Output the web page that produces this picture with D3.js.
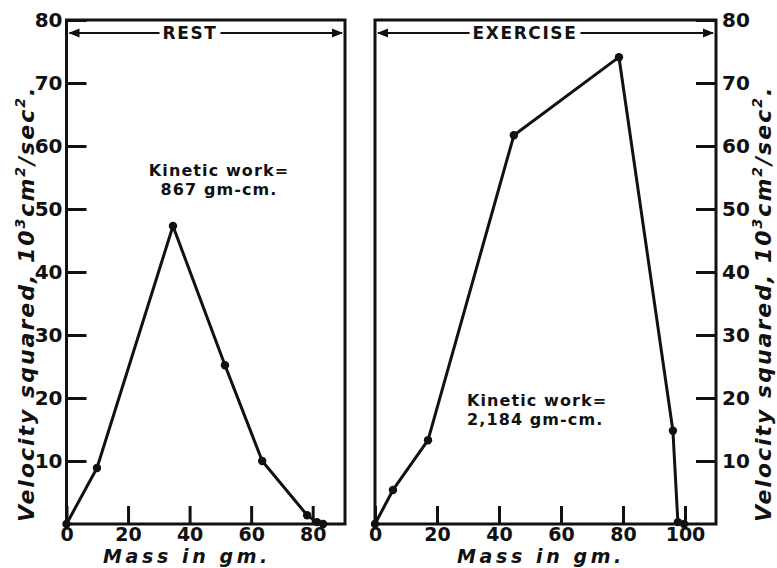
<!DOCTYPE html>
<html>
<head>
<meta charset="utf-8">
<script src="https://cdn.jsdelivr.net/npm/d3@7"></script>
<style>
  html, body { margin: 0; padding: 0; background: #fff; }
  svg { display: block; }
  text { fill: #111; }
</style>
</head>
<body>
<svg id="chart" width="777" height="568"></svg>
<script>
// Mass (gm) vs velocity squared (10^3 cm^2/sec^2)
const restMass     = [0, 9.9, 34.6, 51.5, 63.6, 78.2, 81.4, 83.4];
const restVel      = [0, 8.9, 47.3, 25.2, 10.0, 1.4, 0.3, 0];
const exerciseMass = [0, 5.8, 17.1, 44.8, 78.7, 96.1, 97.7, 99.7];
const exerciseVel  = [0, 5.4, 13.3, 61.7, 74.1, 14.8, 0.3, 0];

const restXTicks     = [0, 20, 40, 60, 80];
const exerciseXTicks = [0, 20, 40, 60, 80, 100];
const restYTicks     = [10, 20, 30, 40, 50, 60, 70, 80];
const exerciseYTicks = [10, 20, 30, 40, 50, 60, 70, 80];

const panelTitles = ["REST", "EXERCISE"];
const workNotes   = [["Kinetic work=", "867 gm-cm."], ["Kinetic work=", "2,184 gm-cm."]];
const xTitle = "Mass in gm.";

const ink = "#111";
const svg = d3.select("#chart");
const labelFont = "'DejaVu Sans', sans-serif";

const panels = [
  { mass: restMass, vel: restVel, xTicks: restXTicks, yTicks: restYTicks,
    x: d3.scaleLinear([0, 90.5], [66.5, 345]), ySide: "left",
    title: panelTitles[0], titleX: 190, note: workNotes[0], noteX: 219, noteY: 176, noteAnchor: "middle",
    xTitleX: 187 },
  { mass: exerciseMass, vel: exerciseVel, xTicks: exerciseXTicks, yTicks: exerciseYTicks,
    x: d3.scaleLinear([0, 110], [375, 716]), ySide: "right",
    title: panelTitles[1], titleX: 525, note: workNotes[1], noteX: 467, noteY: 406, noteAnchor: "start",
    xTitleX: 541 }
];
const y = d3.scaleLinear([0, 80], [524, 20]);

panels.forEach(p => {
  const [x0, x1] = p.x.range();
  const g = svg.append("g");

  // x axis: inward ticks along the bottom
  const xAxis = d3.axisBottom(p.x).tickValues(p.xTicks).tickSizeInner(-18).tickSizeOuter(0).tickPadding(3);
  const gx = g.append("g").attr("transform", `translate(0,${y(0)})`).call(xAxis);
  gx.select(".domain").remove();
  gx.selectAll(".tick line").attr("stroke", ink).attr("stroke-width", 3);
  gx.selectAll(".tick text").attr("font-family", labelFont).attr("font-weight", "bold")
    .attr("font-size", 19).attr("fill", ink);

  // y axis: inward ticks on the outer side
  const yAxis = (p.ySide === "left" ? d3.axisLeft(y) : d3.axisRight(y))
    .tickValues(p.yTicks).tickSizeInner(-20).tickSizeOuter(0).tickPadding(p.ySide === "left" ? 4 : 6);
  const gy = g.append("g").attr("transform", `translate(${p.ySide === "left" ? x0 : x1},0)`).call(yAxis);
  gy.select(".domain").remove();
  gy.selectAll(".tick line").attr("stroke", ink).attr("stroke-width", 3);
  gy.selectAll(".tick text").attr("font-family", labelFont).attr("font-weight", "bold")
    .attr("font-size", 20).attr("fill", ink);

  // frame
  g.append("rect").attr("x", x0).attr("y", y(80)).attr("width", x1 - x0).attr("height", y(0) - y(80))
    .attr("fill", "none").attr("stroke", ink).attr("stroke-width", 3);

  // double-headed arrow with panel title
  const ay = 33, ah = 11, aw = 4.5;
  g.append("line").attr("x1", x0 + 3).attr("x2", x1 - 3).attr("y1", ay).attr("y2", ay)
    .attr("stroke", ink).attr("stroke-width", 2.2);
  g.append("path").attr("fill", ink)
    .attr("d", `M${x0 + 2},${ay} L${x0 + 2 + ah},${ay - aw} L${x0 + 2 + ah},${ay + aw} Z`);
  g.append("path").attr("fill", ink)
    .attr("d", `M${x1 - 2},${ay} L${x1 - 2 - ah},${ay - aw} L${x1 - 2 - ah},${ay + aw} Z`);
  const tt = g.append("text").attr("x", p.titleX).attr("y", ay + 6).attr("text-anchor", "middle")
    .attr("font-family", labelFont).attr("font-weight", "bold").attr("font-size", 17)
    .attr("letter-spacing", 1.6).text(p.title);
  const bb = tt.node().getBBox();
  g.insert("rect", () => tt.node()).attr("x", bb.x - 3).attr("y", ay - 4)
    .attr("width", bb.width + 6).attr("height", 8).attr("fill", "#fff");

  // curve
  const pts = p.mass.map((m, i) => [m, p.vel[i]]);
  g.append("path").datum(pts)
    .attr("d", d3.line().x(d => p.x(d[0])).y(d => y(d[1])))
    .attr("fill", "none").attr("stroke", ink).attr("stroke-width", 3).attr("stroke-linejoin", "round");
  g.selectAll("circle.pt").data(pts).join("circle").attr("class", "pt")
    .attr("cx", d => p.x(d[0])).attr("cy", d => y(d[1])).attr("r", 4.2).attr("fill", ink);

  // kinetic work note
  const nt = g.append("text").attr("font-family", labelFont).attr("font-weight", "bold")
    .attr("font-size", 16).attr("letter-spacing", 1.1).attr("text-anchor", p.noteAnchor);
  p.note.forEach((s, i) => nt.append("tspan").attr("x", p.noteX).attr("y", p.noteY + i * 19).text(s));

  // x title
  svg.append("text").attr("x", p.xTitleX)
    .attr("y", 563).attr("text-anchor", "middle")
    .attr("font-family", labelFont).attr("font-style", "italic").attr("font-weight", "bold")
    .attr("font-size", 19).attr("letter-spacing", 3.6).text(xTitle);

  // y title (reads bottom to top)
  const yt = svg.append("text")
    .attr("transform", `translate(${p.ySide === "left" ? 34 : 771},522) rotate(-90)`)
    .attr("font-family", labelFont).attr("font-style", "italic").attr("font-weight", "bold")
    .attr("font-size", 22).attr("letter-spacing", 2);
  yt.append("tspan").text("Velocity squared, 10");
  yt.append("tspan").attr("dy", -9).attr("font-size", 14).text("3");
  yt.append("tspan").attr("dy", 9).text("cm");
  yt.append("tspan").attr("dy", -9).attr("font-size", 14).text("2");
  yt.append("tspan").attr("dy", 9).text("/sec");
  yt.append("tspan").attr("dy", -9).attr("font-size", 14).text("2");
  yt.append("tspan").attr("dy", 9).text(".");
});
</script>
</body>
</html>
